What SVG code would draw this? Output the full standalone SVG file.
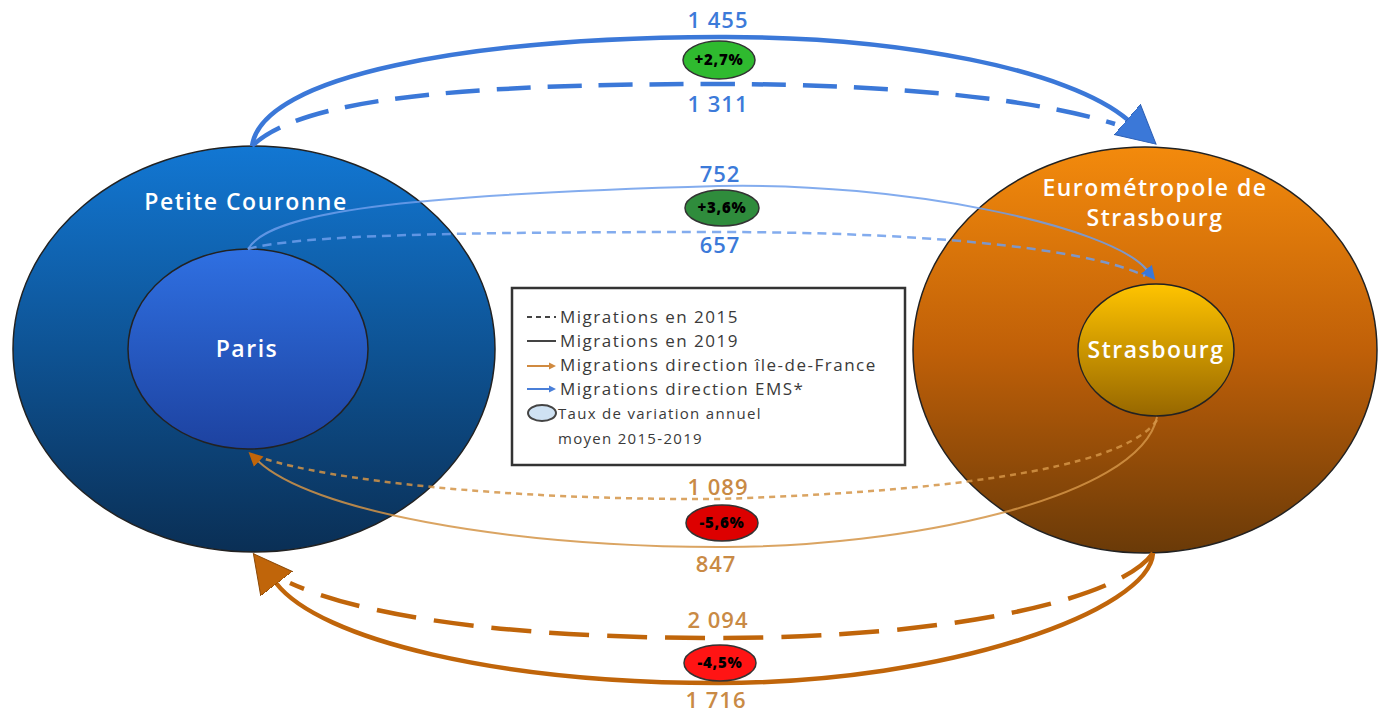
<svg xmlns="http://www.w3.org/2000/svg" width="1378" height="712" viewBox="0 0 1378 712">
<style>
.lbl{font-family:"Open Sans","Liberation Sans",sans-serif;font-weight:600;font-size:22px;letter-spacing:1px;text-anchor:middle}
.blue{fill:#3c7ad9}
.org{fill:#c98a45}
.pct{font-family:"Open Sans","Liberation Sans",sans-serif;font-weight:800;font-size:15px;letter-spacing:0.8px;text-anchor:middle;fill:#000}
.node{font-family:"Open Sans","Liberation Sans",sans-serif;font-weight:600;font-size:23px;letter-spacing:1.5px;text-anchor:middle;fill:#fff}
.leg{font-family:"Open Sans","Liberation Sans",sans-serif;font-size:17px;letter-spacing:1.5px;fill:#3a3a3a}
.leg2{font-family:"Open Sans","Liberation Sans",sans-serif;font-size:15px;letter-spacing:1.3px;fill:#3a3a3a}
.bub{stroke:#333;stroke-width:1.5}
.ring{stroke:#222;stroke-width:1.5}
</style>
<defs>
<linearGradient id="gPC" x1="0" y1="0" x2="0" y2="1"><stop offset="0" stop-color="#1277d3"/><stop offset="1" stop-color="#0a2f55"/></linearGradient>
<linearGradient id="gPa" x1="0" y1="0" x2="0" y2="1"><stop offset="0" stop-color="#2f70e2"/><stop offset="1" stop-color="#1d42a0"/></linearGradient>
<linearGradient id="gEMS" x1="0" y1="0" x2="0" y2="1"><stop offset="0" stop-color="#f38a0c"/><stop offset="0.5" stop-color="#c06008"/><stop offset="1" stop-color="#6a3a08"/></linearGradient>
<linearGradient id="gStr" x1="0" y1="0" x2="0" y2="1"><stop offset="0" stop-color="#ffc400"/><stop offset="1" stop-color="#976700"/></linearGradient>
<marker id="mBlueBig" markerUnits="userSpaceOnUse" markerWidth="40" markerHeight="42" refX="1" refY="21" orient="auto"><path d="M0,1 L38,21 L0,41 z" fill="#3b78d8" stroke="#2c5fb5" stroke-width="1"/></marker>
<marker id="mOrgBig" markerUnits="userSpaceOnUse" markerWidth="40" markerHeight="42" refX="1" refY="21" orient="auto"><path d="M0,1 L38,21 L0,41 z" fill="#c0650a" stroke="#8a4806" stroke-width="1"/></marker>
<marker id="mBlueSm" markerUnits="userSpaceOnUse" markerWidth="16" markerHeight="16" refX="1" refY="8" orient="auto"><path d="M0,1 L14,8 L0,15 z" fill="#3b78d8"/></marker>
<marker id="mOrgSm" markerUnits="userSpaceOnUse" markerWidth="16" markerHeight="16" refX="1" refY="8" orient="auto"><path d="M0,1 L14,8 L0,15 z" fill="#c0650a"/></marker>
<marker id="mLegO" markerUnits="userSpaceOnUse" markerWidth="8" markerHeight="8" refX="1" refY="4" orient="auto"><path d="M0,0.5 L7,4 L0,7.5 z" fill="#d08a40"/></marker>
<marker id="mLegB" markerUnits="userSpaceOnUse" markerWidth="8" markerHeight="8" refX="1" refY="4" orient="auto"><path d="M0,0.5 L7,4 L0,7.5 z" fill="#4a7fd8"/></marker>
</defs>
<rect width="1378" height="712" fill="#fff"/>

<g id="petite-couronne">
<ellipse class="ring" cx="254" cy="349" rx="241" ry="203" fill="url(#gPC)"/>
<text class="node" x="246" y="210">Petite Couronne</text>
</g>
<g id="paris">
<ellipse class="ring" cx="248" cy="349" rx="120" ry="100" fill="url(#gPa)"/>
<text class="node" x="247" y="357">Paris</text>
</g>
<g id="eurometropole">
<ellipse class="ring" cx="1145" cy="350" rx="232" ry="203" fill="url(#gEMS)"/>
<text class="node" x="1155" y="196">Eurométropole de</text>
<text class="node" x="1155" y="226">Strasbourg</text>
</g>
<g id="strasbourg">
<ellipse class="ring" cx="1156" cy="350" rx="78" ry="66" fill="url(#gStr)"/>
<text class="node" x="1156" y="358">Strasbourg</text>
</g>

<g id="connectors" fill="none">
<path d="M252,146 C262,75 470,38 718,37 C900,36 1070,70 1128,120" stroke="#3b78d8" stroke-width="4.5" marker-end="url(#mBlueBig)"/>
<path d="M252,146 C300,100 450,84 718,84 C900,84 1040,100 1115,124" stroke="#3b78d8" stroke-width="4.5" stroke-dasharray="34,17"/>
<path d="M248,249 C270,212 400,195 718,186 C900,182 1110,225 1147,270" stroke="#6d9eeb" stroke-opacity="0.85" stroke-width="2" marker-end="url(#mBlueSm)"/>
<path d="M248,249 C300,235 450,232 718,232 C900,232 1080,245 1145,276" stroke="#6d9eeb" stroke-opacity="0.85" stroke-width="2.5" stroke-dasharray="9,6"/>
<path d="M1157,417 C1140,500 900,548 718,547 C500,546 310,510 258,461" stroke="#d39447" stroke-opacity="0.85" stroke-width="2" marker-end="url(#mOrgSm)"/>
<path d="M1157,420 C1130,460 1000,490 718,499 C500,500 330,480 262,458" stroke="#d39447" stroke-opacity="0.85" stroke-width="2.5" stroke-dasharray="6,5"/>
<path d="M1153,553 C1150,610 950,683 718,683 C500,683 320,640 276,583" stroke="#c0650a" stroke-width="4.5" marker-end="url(#mOrgBig)"/>
<path d="M1153,553 C1120,600 950,638 718,638 C500,638 360,615 290,583" stroke="#c0650a" stroke-width="4.5" stroke-dasharray="40,18"/>
</g>

<g id="labels">
<text class="lbl blue" x="718" y="28">1 455</text>
<ellipse class="bub" cx="719" cy="60" rx="36" ry="19" fill="#2fba2f"/>
<text class="pct" x="719" y="65">+2,7%</text>
<text class="lbl blue" x="718" y="112">1 311</text>

<text class="lbl blue" x="720" y="182">752</text>
<ellipse class="bub" cx="722" cy="208" rx="37" ry="18" fill="#2f8c3c"/>
<text class="pct" x="722" y="213">+3,6%</text>
<text class="lbl blue" x="720" y="253">657</text>

<text class="lbl org" x="718" y="495">1 089</text>
<ellipse class="bub" cx="722" cy="523" rx="36" ry="18" fill="#dd0000"/>
<text class="pct" x="722" y="528">-5,6%</text>
<text class="lbl org" x="716" y="572">847</text>

<text class="lbl org" x="718" y="628">2 094</text>
<ellipse class="bub" cx="720" cy="663" rx="36" ry="18" fill="#ff1414"/>
<text class="pct" x="720" y="668">-4,5%</text>
<text class="lbl org" x="716" y="708">1 716</text>
</g>

<g id="legend">
<rect x="512" y="288" width="393" height="177" fill="#fff" stroke="#333" stroke-width="2.5"/>
<line x1="527" y1="317" x2="556" y2="317" stroke="#444" stroke-width="2.2" stroke-dasharray="5,4"/>
<text class="leg" x="560" y="323">Migrations en 2015</text>
<line x1="527" y1="341" x2="556" y2="341" stroke="#444" stroke-width="2"/>
<text class="leg" x="560" y="347">Migrations en 2019</text>
<line x1="527" y1="366" x2="550" y2="366" stroke="#d08a40" stroke-width="2" marker-end="url(#mLegO)"/>
<text class="leg" x="560" y="371">Migrations direction île-de-France</text>
<line x1="527" y1="389" x2="550" y2="389" stroke="#4a7fd8" stroke-width="2" marker-end="url(#mLegB)"/>
<text class="leg" x="560" y="395">Migrations direction EMS*</text>
<ellipse cx="542" cy="413" rx="14" ry="8" fill="#cfe2f3" stroke="#444" stroke-width="2"/>
<text class="leg2" x="558" y="419">Taux de variation annuel</text>
<text class="leg2" x="558" y="444">moyen 2015-2019</text>
</g>
</svg>
